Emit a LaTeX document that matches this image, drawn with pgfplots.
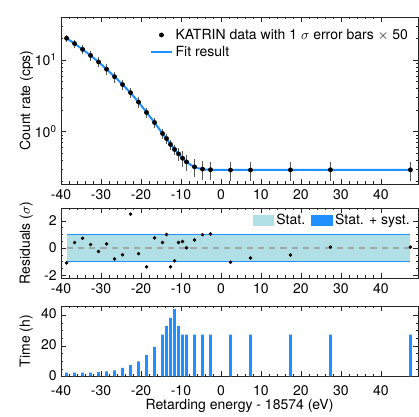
\documentclass[border=0pt]{standalone}
\usepackage{fontspec}
\setmainfont{TeX Gyre Heros}
\usepackage{pgfplots}
\usepackage{pgfplotstable}
\pgfplotsset{compat=1.18}

\definecolor{katblue}{RGB}{30,144,255}
\definecolor{statcol}{RGB}{176,224,230}
\newcommand\chartfont{\fontsize{11.2}{13.4}\selectfont}

% energy, rate (cps), error bar (x50)
\pgfplotstableread{
e r err
-38.6 20.2 2.32
-36.6 17.0 2.13
-34.6 14.1 1.95
-32.6 11.6 1.76
-30.6 9.4 1.52
-28.6 7.45 1.25
-26.6 5.85 1.01
-24.6 4.55 0.75
-22.6 3.50 0.57
-20.6 2.58 0.43
-18.6 1.85 0.30
-16.6 1.34 0.22
-14.6 0.94 0.154
-13.6 0.80 0.130
-12.6 0.66 0.110
-11.6 0.563 0.094
-10.6 0.488 0.102
-9.6 0.425 0.104
-8.6 0.376 0.098
-6.6 0.321 0.090
-4.6 0.299 0.087
-2.6 0.293 0.086
2.4 0.290 0.086
7.4 0.290 0.086
17.4 0.291 0.086
27.4 0.292 0.086
47.4 0.292 0.086
}\countdata

\pgfplotstableread{
e f
-38.6 20.2
-36.6 17.0
-34.6 14.1
-32.6 11.6
-30.6 9.4
-28.6 7.45
-26.6 5.85
-24.6 4.55
-22.6 3.48
-20.6 2.58
-18.6 1.86
-16.6 1.33
-14.6 0.94
-13.6 0.79
-12.6 0.665
-11.6 0.565
-10.6 0.487
-9.6 0.424
-8.6 0.376
-7.6 0.343
-6.6 0.320
-5.6 0.306
-4.6 0.298
-3.6 0.294
-2.6 0.292
2.4 0.291
47.4 0.291
}\fitdata

\pgfplotstableread{
e res
-38.6 -1.09
-36.6 0.41
-34.6 0.72
-32.6 0.26
-30.6 -0.25
-28.6 0.31
-26.6 -0.80
-24.6 -0.49
-22.6 2.50
-20.6 -0.41
-18.6 -1.38
-16.6 0.75
-14.6 0.41
-13.6 1.00
-12.6 -1.38
-11.6 -0.94
-10.6 0.41
-9.6 0.48
-8.6 0.02
-6.6 0.60
-4.6 0.99
-2.6 1.04
2.4 -1.04
7.4 -0.73
17.4 -0.51
27.4 0.07
47.4 0.07
}\resdata

\pgfplotstableread{
e t
-38.6 2.6
-36.6 2.6
-34.6 2.6
-32.6 2.6
-30.6 2.8
-28.6 3.3
-26.6 4.0
-24.6 5.6
-22.6 7.5
-20.6 9.8
-18.6 14.0
-16.6 19.4
-14.6 27.3
-13.6 32.8
-12.6 38.3
-11.6 44.0
-10.6 32.8
-9.6 27.3
-8.6 27.3
-6.6 27.3
-4.6 27.3
-2.6 27.3
2.4 27.3
7.4 27.3
17.4 27.3
27.4 27.3
47.4 27.3
}\timedata

\pgfplotsset{
  katrin/.style={
    scale only axis,
    width=285.6pt,
    xmin=-40, xmax=49.3,
    xtick={-40,-30,...,40},
    minor x tick num=4,
    tick align=inside,
    xtick pos=both, ytick pos=both,
    major tick length=4pt, minor tick length=2pt,
    every tick/.style={black!85, line width=0.5pt},
    axis line style={black!85, line width=0.7pt},
    /pgf/number format/assume math mode=true,
    tick label style={font=\chartfont},
    xticklabel style={yshift=-1pt},
    label style={font=\chartfont},
    ylabel style={at={(axis description cs:-0.097,0.5)}, anchor=center},
  }
}

\begin{document}
\begin{tikzpicture}
\path (0,0) rectangle (335.2pt,331.2pt);

% count rate
\begin{axis}[katrin,
  at={(48.8pt,184pt)}, anchor=south west,
  height=133.6pt,
  ymode=log, ymin=0.185, ymax=40,
  ytick={1,10},
  yticklabels={10\textsuperscript{0},10\textsuperscript{1}},
  minor ytick={0.2,0.3,0.4,0.5,0.6,0.7,0.8,0.9,2,3,4,5,6,7,8,9,20,30,40},
  ylabel={Count rate (cps)},
  reverse legend,
  legend style={at={(axis description cs:0.99,0.96)}, anchor=north east,
    draw=none, fill=none, font=\chartfont, row sep=0pt},
  legend cell align=left,
]
\addplot[katblue, line width=1.6pt] table[x=e, y=f] {\fitdata};
\addlegendentry{Fit result}
\addplot[only marks, mark=*, mark size=1.7pt, black,
  error bars/.cd, y dir=both, y explicit,
  error bar style={black!65, line width=0.6pt}, error mark=none]
  table[x=e, y=r, y error=err] {\countdata};
\addlegendentry{KATRIN data with 1 $\sigma$ error bars $\times$ 50}
\end{axis}

% residuals
\begin{axis}[katrin,
  at={(48.8pt,108.8pt)}, anchor=south west,
  height=56pt,
  ymin=-2.2, ymax=2.95,
  ytick={-2,0,2}, minor y tick num=3,
  ylabel={Residuals ($\sigma$)},
  reverse legend,
  legend columns=2,
  legend style={at={(axis description cs:0.995,0.985)}, anchor=north east,
    draw=none, fill=none, font=\chartfont,
    /tikz/every even column/.append style={column sep=3pt}},
]
\addplot[fill=katblue, draw=none,
  legend image code/.code={\fill[katblue] (0pt,-4.7pt) rectangle (17pt,4.7pt);}]
  coordinates {(-38.6,-1.04) (47.4,-1.04) (47.4,1.04) (-38.6,1.04)} -- cycle;
\addlegendentry{Stat. + syst.}
\addplot[fill=statcol, draw=none,
  legend image code/.code={\fill[statcol] (0pt,-4.7pt) rectangle (17pt,4.7pt);}]
  coordinates {(-38.6,-0.93) (47.4,-0.93) (47.4,0.93) (-38.6,0.93)} -- cycle;
\addlegendentry{Stat.}
\addplot[black!35, line width=1.1pt, dash pattern=on 5pt off 4pt, forget plot]
  coordinates {(-38.6,0) (47.4,0)};
\addplot[only marks, mark=*, mark size=1.2pt, black, forget plot]
  table[x=e, y=res] {\resdata};
\end{axis}

% measurement time
\begin{axis}[katrin,
  at={(48.8pt,30pt)}, anchor=south west,
  height=56.4pt,
  ymin=0, ymax=46,
  ytick={0,20,40}, minor y tick num=3,
  yticklabel style={yshift=1pt},
  xticklabel style={yshift=-2.5pt},
  ylabel={Time (h)},
  xlabel={Retarding energy - 18574 (eV)},
  xlabel style={yshift=4pt},
]
\addplot[ybar, bar width=0.7, bar shift=0pt, fill=katblue, draw=none]
  table[x=e, y=t] {\timedata};
\end{axis}
\end{tikzpicture}
\end{document}
